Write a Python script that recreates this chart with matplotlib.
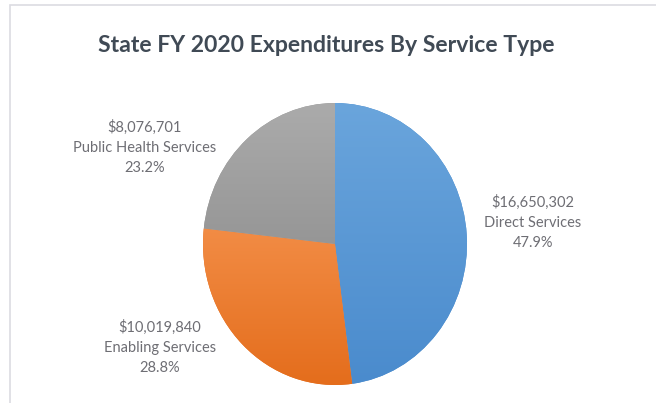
import matplotlib

matplotlib.use("Agg")
import matplotlib.pyplot as plt
import numpy as np
from matplotlib.colors import LinearSegmentedColormap

plt.rcParams["font.family"] = ["Lato", "DejaVu Sans"]

categories = ["Direct Services", "Enabling Services", "Public Health Services"]
amounts = [16650302, 10019840, 8076701]
pct_labels = ["47.9%", "28.8%", "23.2%"]

# top / bottom shade for each slice
shades = [("#6aa5dc", "#4a8bcd"), ("#f28c45", "#e46d1c"), ("#ababab", "#969696")]
label_xy = [(0.812, 0.449), (0.244, 0.139), (0.221, 0.635)]  # figure coords

fig = plt.figure(figsize=(6.56, 4.03), dpi=100)
fig.patches.append(plt.Rectangle((0.0155, -0.01), 1.1, 0.9975, transform=fig.transFigure,
                                 fill=False, ec="#dcdce2", lw=1.2))

fig.text(0.497, 0.888, "State FY 2020 Expenditures By Service Type", ha="center", va="center",
         fontsize=16.6, fontweight="bold", color="#404a55")

cx, cy, rx, ry = 335 / 656, 1 - 244 / 403, 132 / 656, 141 / 403
ax = fig.add_axes([cx - rx, cy - ry, 2 * rx, 2 * ry])
wedges, _ = ax.pie(amounts, startangle=90, counterclock=False, radius=1.0,
                   wedgeprops=dict(edgecolor="none"))

grad = np.linspace(0, 1, 256).reshape(-1, 1)
for w, (top, bot) in zip(wedges, shades):
    ext = w.get_path().get_extents()
    cmap = LinearSegmentedColormap.from_list("s", [top, bot])
    w.set_facecolor(bot)
    im = ax.imshow(grad, cmap=cmap, aspect="auto",
                   extent=(ext.x0, ext.x1, ext.y0, ext.y1), origin="upper", zorder=2)
    im.set_clip_path(w)
ax.set_xlim(-1, 1)
ax.set_ylim(-1, 1)
ax.set_aspect("auto")

for name, amt, pct, (x, y) in zip(categories, amounts, pct_labels, label_xy):
    fig.text(x, y, f"${amt:,}\n{name}\n{pct}", ha="center", va="center",
             fontsize=10.5, color="#6e6e74", linespacing=1.55)

fig.savefig("out.png", dpi=100)
